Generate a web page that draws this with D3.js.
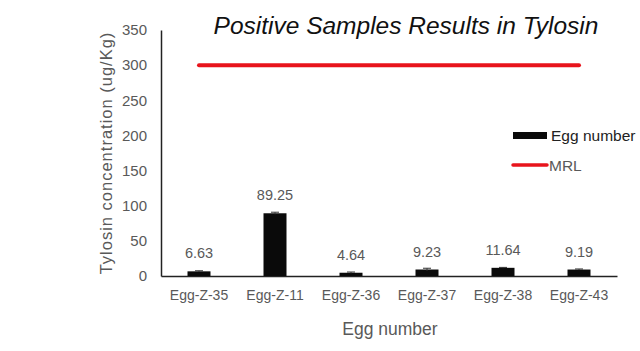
<!DOCTYPE html>
<html><head><meta charset="utf-8">
<script src="https://cdn.jsdelivr.net/npm/d3@7"></script>
<style>body{margin:0;background:#fff}</style></head>
<body><svg id="c" width="640" height="351"></svg>
<script>
const categories = ["Egg-Z-35","Egg-Z-11","Egg-Z-36","Egg-Z-37","Egg-Z-38","Egg-Z-43"];
const values = [6.63, 89.25, 4.64, 9.23, 11.64, 9.19];
const errors = [0.8, 1.5, 1.0, 1.8, 0.6, 0.8];
const mrl = [300,300,300,300,300,300];
const yTicks = [0,50,100,150,200,250,300,350];

(function(){
const svg = d3.select("#c");
const mLeft=161, mRight=617, mTop=30, mBottom=276;
const x = d3.scaleBand().domain(categories).range([mLeft,mRight]);
const y = d3.scaleLinear().domain([0,350]).range([mBottom,mTop]);
const font = "'Liberation Sans', Arial, sans-serif";
const grey = "#595959";

svg.append("text").attr("x",406).attr("y",34).attr("text-anchor","middle")
  .attr("font-family",font).attr("font-style","italic").attr("font-size",24.5).attr("fill","#111")
  .text("Positive Samples Results in Tylosin");

const ya = svg.append("g").attr("transform",`translate(${mLeft},0)`)
  .call(d3.axisLeft(y).tickValues(yTicks).tickSize(0).tickPadding(14));
ya.select(".domain").attr("stroke","#222").attr("stroke-width",1.5);
ya.selectAll("text").attr("font-family",font).attr("font-size",15).attr("fill",grey);

const xa = svg.append("g").attr("transform",`translate(0,${mBottom})`)
  .call(d3.axisBottom(x).tickSize(0).tickPadding(14));
xa.select(".domain").attr("stroke","#222").attr("stroke-width",1.5);
xa.selectAll("text").attr("font-family",font).attr("font-size",14).attr("fill",grey);

const bw = 23;
svg.append("g").selectAll("rect").data(values).join("rect")
  .attr("x",(d,i)=>x(categories[i])+x.bandwidth()/2-bw/2)
  .attr("y",d=>y(d)).attr("width",bw).attr("height",d=>mBottom-y(d)).attr("fill","#0a0a0a");

const eg = svg.append("g").attr("stroke","#333").attr("stroke-width",1);
values.forEach((v,i)=>{
  const cx = x(categories[i])+x.bandwidth()/2;
  eg.append("line").attr("x1",cx).attr("x2",cx).attr("y1",y(v-errors[i])).attr("y2",y(v+errors[i]));
  eg.append("line").attr("x1",cx-4).attr("x2",cx+4).attr("y1",y(v+errors[i])).attr("y2",y(v+errors[i]));
});

svg.append("g").selectAll("text").data(values).join("text")
  .attr("x",(d,i)=>x(categories[i])+x.bandwidth()/2).attr("y",d=>y(d)-13)
  .attr("text-anchor","middle").attr("font-family",font).attr("font-size",14.5).attr("fill",grey)
  .text(d=>d.toFixed(2));

const line = d3.line().x((d,i)=>x(categories[i])+x.bandwidth()/2).y(d=>y(d));
svg.append("path").datum(mrl).attr("d",line).attr("fill","none")
  .attr("stroke","#e8141c").attr("stroke-width",4).attr("stroke-linecap","round");

svg.append("rect").attr("x",513).attr("y",132).attr("width",34).attr("height",7).attr("fill","#0a0a0a");
svg.append("text").attr("x",551).attr("y",141).attr("font-family",font).attr("font-size",15.5).attr("fill","#222").text("Egg number");
svg.append("line").attr("x1",513).attr("x2",547).attr("y1",165).attr("y2",165).attr("stroke","#e8141c").attr("stroke-width",3.5).attr("stroke-linecap","round");
svg.append("text").attr("x",549).attr("y",171).attr("font-family",font).attr("font-size",15.5).attr("fill",grey).text("MRL");

svg.append("text").attr("transform","translate(106,153) rotate(-90)").attr("text-anchor","middle")
  .attr("dy","0.35em").attr("letter-spacing","1")
  .attr("font-family",font).attr("font-size",16.5).attr("fill",grey).text("Tylosin concentration (ug/Kg)");
svg.append("text").attr("x",390).attr("y",335).attr("text-anchor","middle")
  .attr("font-family",font).attr("font-size",17.5).attr("fill",grey).text("Egg number");
})();
</script></body></html>
